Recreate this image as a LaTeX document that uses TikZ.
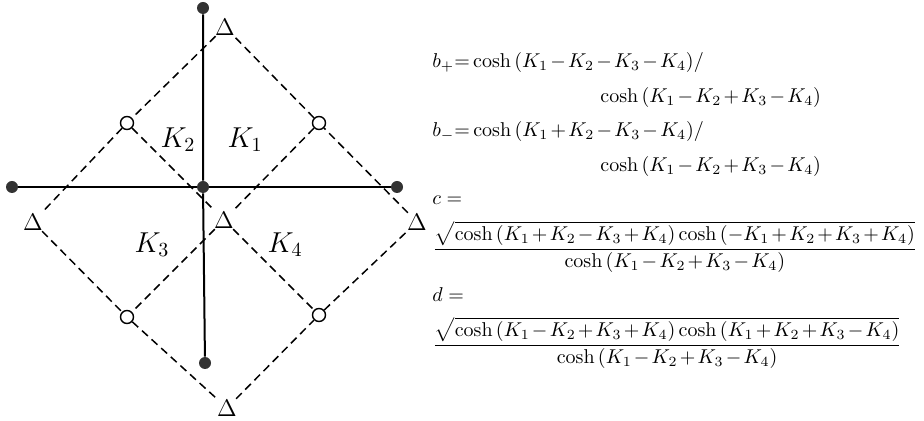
\documentclass[tikz,border=0pt]{standalone}
\usepackage{amsmath}
\medmuskip=2mu
\begin{document}
\begin{tikzpicture}[x=0.5pt,y=-0.5pt,
    dot/.style={circle,fill=black!80,inner sep=0pt,minimum size=6pt},
    ring/.style={circle,draw,line width=0.7pt,fill=white,inner sep=0pt,minimum size=6.5pt},
    tri/.style={inner sep=0.3pt,font=\large},
    lat/.style={dash pattern=on 4pt off 2.5pt,line width=0.75pt},
    bond/.style={line width=1pt},
    lab/.style={font=\Large},
    eq/.style={anchor=base west,inner sep=0pt}]
    \useasboundingbox (0,0) rectangle (924,421);

    % solid cross
    \node[dot] (dtop) at (203,8) {};
    \node[dot] (dleft) at (12,187) {};
    \node[dot] (dcen) at (203,187) {};
    \node[dot] (dright) at (397,187) {};
    \node[dot] (dbot) at (205,363) {};

    % dashed lattice
    \node[tri] (ttop) at (225,27) {$\Delta$};
    \node[tri] (tleft) at (33,222) {$\Delta$};
    \node[tri] (tcen) at (224,220) {$\Delta$};
    \node[tri] (tright) at (417,222) {$\Delta$};
    \node[tri] (tbot) at (227,408) {$\Delta$};

    \node[ring] (cul) at (127,123) {};
    \node[ring] (cur) at (319,123) {};
    \node[ring] (cll) at (127,317) {};
    \node[ring] (clr) at (319,315) {};

    \draw[bond] (dtop) -- (dcen) -- (dbot);
    \draw[bond] (dleft) -- (dcen) -- (dright);

    \draw[lat] (ttop) -- (cul) -- (tleft) -- (cll) -- (tbot) -- (clr) -- (tright) -- (cur) -- (ttop);
    \draw[lat] (cul) -- (tcen) -- (clr);
    \draw[lat] (cur) -- (tcen) -- (cll);

    \node[lab] (k2) at (178,140) {$K_2$};
    \node[lab] (k1) at (245,140) {$K_1$};
    \node[lab] (k3) at (152,245) {$K_3$};
    \node[lab] (k4) at (285,245) {$K_4$};

    % weights
    \node[eq] (bp) at (432,68) {$b_+{=}\cosh\,(K_1-K_2-K_3-K_4)/$};
    \node[eq] (bpd) at (600,103) {$\cosh\,(K_1-K_2+K_3-K_4)$};
    \node[eq] (bm) at (432,137) {$b_-{=}\cosh\,(K_1+K_2-K_3-K_4)/$};
    \node[eq] (bmd) at (600,172) {$\cosh\,(K_1-K_2+K_3-K_4)$};
    \node[eq] (c) at (432,205) {$c=$};
    \node[eq] (cf) at (432,254) {$\dfrac{\sqrt{\cosh\,(K_1+K_2-K_3+K_4)\cosh\,(-K_1+K_2+K_3+K_4)}}{\cosh\,(K_1-K_2+K_3-K_4)}$};
    \node[eq] (d) at (432,302) {$d=$};
    \node[eq] (df) at (432,350) {$\dfrac{\sqrt{\cosh\,(K_1-K_2+K_3+K_4)\cosh\,(K_1+K_2+K_3-K_4)}}{\cosh\,(K_1-K_2+K_3-K_4)}$};
\end{tikzpicture}
\end{document}
